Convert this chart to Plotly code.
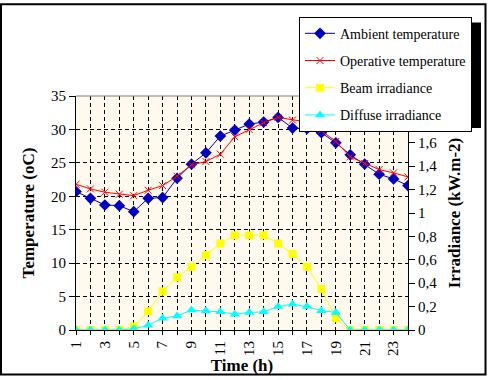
import plotly.graph_objects as go

hours = list(range(1, 25))
ambient = [20.7, 19.7, 18.7, 18.6, 17.7, 19.7, 19.8, 22.7, 24.8, 26.5, 29.0, 29.9,
           30.8, 31.1, 31.8, 30.2, 30.1, 29.5, 28.0, 26.2, 24.8, 23.3, 22.6, 21.6]
operative = [21.8, 21.1, 20.6, 20.3, 20.1, 20.9, 21.6, 23.0, 24.7, 25.2, 26.3, 28.9,
             30.0, 31.0, 31.8, 31.4, 31.1, 29.8, 28.2, 25.9, 24.9, 24.0, 23.5, 22.9]
beam = [0, 0, 0, 0, 0.03, 0.16, 0.33, 0.45, 0.54, 0.64, 0.74, 0.81,
        0.81, 0.81, 0.74, 0.65, 0.54, 0.35, 0.10, 0, 0, 0, 0, 0]
diffuse = [0, 0, 0, 0, 0.01, 0.04, 0.10, 0.12, 0.17, 0.165, 0.155, 0.135,
           0.15, 0.155, 0.20, 0.22, 0.20, 0.165, 0.15, 0, 0, 0, 0, 0]
# right axis ticks (1,8 and 2 sit behind the legend in the original)
irr_ticks = [0, 0.2, 0.4, 0.6, 0.8, 1, 1.2, 1.4, 1.6]
irr_labels = ["0", "0,2", "0,4", "0,6", "0,8", "1", "1,2", "1,4", "1,6"]

serif = "Liberation Serif"
dash = "4px,3px"

fig = go.Figure()
fig.add_trace(go.Scatter(name="Ambient temperature", x=hours, y=ambient, mode="lines+markers",
                         line=dict(color="#0000C0", width=1), legendgroup="a",
                         marker=dict(symbol="diamond", size=9, color="#0000C0")))
fig.add_trace(go.Scatter(name="Operative temperature", x=hours, y=operative, mode="lines+markers",
                         line=dict(color="#FF0000", width=1), legendgroup="b",
                         marker=dict(symbol="x-thin-open", size=7, color="#FF0000",
                                     line=dict(color="#FF0000", width=1))))
fig.add_trace(go.Scatter(name="Beam irradiance", x=hours, y=beam, mode="lines+markers", yaxis="y2",
                         line=dict(color="#FFFF00", width=1), legendgroup="c",
                         marker=dict(symbol="square", size=8, color="#FFFF00")))
fig.add_trace(go.Scatter(name="Diffuse irradiance", x=hours, y=diffuse, mode="lines+markers", yaxis="y2",
                         line=dict(color="#00FFFF", width=1), legendgroup="d",
                         marker=dict(symbol="triangle-up", size=9, color="#00FFFF")))

# plot area spans x 76..408, y 96..338 px
L, R, T, B = 76, 82, 96, 42
W, H = 490 - L - R, 380 - T - B

def px(x):
    return (x - L) / W

def py(y):
    return (380 - B - y) / H

fig.update_layout(
    width=490, height=380,
    margin=dict(l=L, r=R, t=T, b=B),
    paper_bgcolor="white", plot_bgcolor="#FFF9EE",
    separators=", ",
    font=dict(family=serif, size=15, color="black"),
    showlegend=True,
    legend=dict(x=px(299), y=py(14), xanchor="left", yanchor="top",
                bgcolor="white", bordercolor="black", borderwidth=1,
                traceorder="grouped", tracegroupgap=6,
                font=dict(family=serif, size=14)),
    xaxis=dict(range=[1, 24], tick0=1, dtick=2, tickangle=-90,
               ticks="outside", ticklen=4, tickcolor="black",
               showline=True, linecolor="black", linewidth=1,
               showgrid=True, gridcolor="black", griddash=dash, gridwidth=1,
               minor=dict(dtick=1, tick0=1, ticks="outside", ticklen=4, tickcolor="black",
                          showgrid=True, gridcolor="black", griddash=dash),
               zeroline=False,
               title=dict(text="<b>Time (h)</b>", font=dict(size=17), standoff=0)),
    yaxis=dict(range=[0, 35], dtick=5, ticks="outside", ticklen=6, tickcolor="black",
               showline=True, linecolor="black", linewidth=1,
               showgrid=True, gridcolor="black", griddash=dash, zeroline=False,
               title=dict(text="<b>Temperature (oC)</b>", font=dict(size=17), standoff=12)),
    yaxis2=dict(range=[0, 2], tickvals=irr_ticks, ticktext=irr_labels,
                overlaying="y", side="right",
                ticks="outside", ticklen=6, tickcolor="black",
                showline=True, linecolor="black", linewidth=1,
                showgrid=False, zeroline=False,
                title=dict(text="<b>Irradiance (kW.m-2)</b>", font=dict(size=17), standoff=11)),
    shapes=[
        # top border of plot area
        dict(type="line", xref="paper", yref="paper", x0=0, x1=1, y0=1, y1=1,
             line=dict(color="#808080", width=1), layer="above"),
        # legend shadow
        dict(type="rect", xref="paper", yref="paper", x0=px(304), x1=px(481), y0=py(129), y1=py(20),
             fillcolor="black", line=dict(width=0), layer="above"),
        # chart border
        dict(type="rect", xref="paper", yref="paper", x0=px(1), x1=px(485.5), y0=py(384), y1=py(1),
             line=dict(color="black", width=2), layer="above"),
    ],
)

fig.write_html("out.html", config={"displayModeBar": False},
               post_script="document.body.style.margin='0';")
